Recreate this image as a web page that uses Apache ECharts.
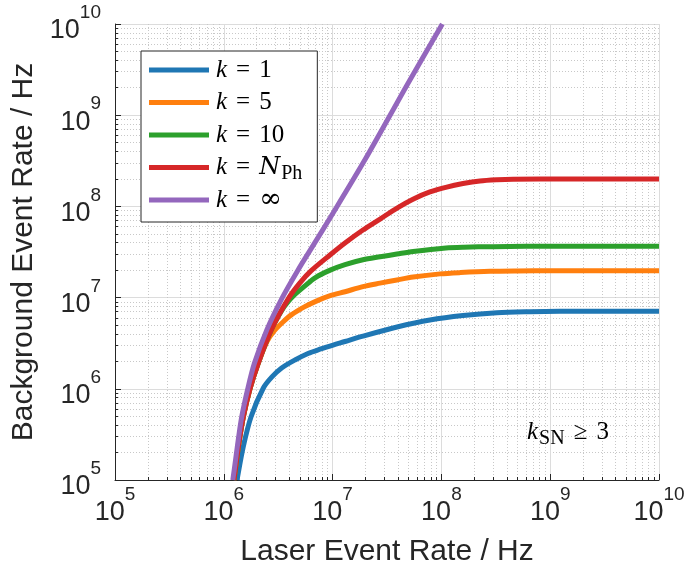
<!DOCTYPE html>
<html><head><meta charset="utf-8">
<script src="https://cdn.jsdelivr.net/npm/echarts@6/dist/echarts.min.js"></script>
<style>html,body{margin:0;padding:0;background:#fff}#c{width:686px;height:568px}</style>
</head><body><div id="c"></div>
<script>
// ---- data ----
const seriesNames = ['k1', 'k5', 'k10', 'kNPh', 'kInf'];
const legendLabels = [
  '{k|k}{eq|=}{t|1}',
  '{k|k}{eq|=}{t|5}',
  '{k|k}{eq|=}{t|10}',
  '{k|k}{eq|=}{N|N}{sub|Ph}',
  '{k|k}{eq|=}{inf|∞}'
];
const colors = ['#1f77b4', '#ff7f0e', '#2ca02c', '#d62728', '#9467bd'];

const blue = [[1.33e6,1e5],[1.34e6,1.09e5],[1.51e6,2.32e5],[1.78e6,4.94e5],[2.31e6,1.02e6],[2.77e6,1.35e6],[3.4e6,1.69e6],[4.51e6,2.07e6],[5.94e6,2.44e6],[7.66e6,2.72e6],[1.01e7,3.02e6],[1.3e7,3.3e6],[1.9e7,3.78e6],[3.91e7,4.76e6],[7.85e7,5.68e6],[1.58e8,6.36e6],[3.25e8,6.83e6],[6.52e8,7.0e6],[1.23e9,7.07e6],[1e10,7.1e6]];
const orange = [[1.24e6,1e5],[1.36e6,2.3e5],[1.51e6,4.9e5],[1.74e6,1e6],[2.07e6,1.9e6],[2.5e6,3.3e6],[2.9e6,4.3e6],[3.5e6,5.4e6],[4.2e6,6.5e6],[5.5e6,7.9e6],[7e6,9.1e6],[9.5e6,1.05e7],[1.3e7,1.16e7],[1.9e7,1.32e7],[2.73e7,1.44e7],[3.9e7,1.56e7],[5.5e7,1.68e7],[9.7e7,1.82e7],[1.5e8,1.88e7],[2.8e8,1.94e7],[5e8,1.96e7],[1e9,1.97e7],[1e10,1.97e7]];
const green = [[1.24e6,1e5],[1.36e6,2.3e5],[1.51e6,4.9e5],[1.74e6,1e6],[2.07e6,1.9e6],[2.72e6,4.4e6],[3.4e6,7.2e6],[3.9e6,9.0e6],[4.5e6,1.08e7],[5.5e6,1.33e7],[6.9e6,1.65e7],[9.5e6,2.0e7],[1.3e7,2.3e7],[1.9e7,2.6e7],[2.73e7,2.8e7],[3.9e7,3.0e7],[5.5e7,3.2e7],[1.1e8,3.5e7],[1.6e8,3.57e7],[3e8,3.62e7],[6e8,3.65e7],[1e10,3.65e7]];
const red = [[1.24e6,1e5],[1.36e6,2.3e5],[1.51e6,4.9e5],[1.74e6,1e6],[2.07e6,1.9e6],[2.72e6,4.4e6],[3.97e6,1e7],[5.01e6,1.45e7],[6.33e6,1.96e7],[9.46e6,2.93e7],[1.3e7,3.97e7],[1.9e7,5.51e7],[2.73e7,7.27e7],[3.91e7,9.6e7],[5.48e7,1.2e8],[7.85e7,1.44e8],[1.12e8,1.63e8],[1.58e8,1.78e8],[2.26e8,1.9e8],[3.25e8,1.96e8],[4.55e8,1.99e8],[8.06e8,2.0e8],[1e10,2e8]];
const purple = [[1.21e6,1e5],[1.27e6,1.52e5],[1.33e6,2.3e5],[1.46e6,4.9e5],[1.66e6,1e6],[1.91e6,1.9e6],[2.48e6,4.4e6],[3.45e6,1e7],[4.8e6,2.0e7],[6.5e6,3.6e7],[9.5e6,7.5e7],[2e7,3.3e8],[5e7,2.3e9],[1.02e8,1e10]];
const allData = [blue, orange, green, red, purple];

const xMin = 1e5, xMax = 1e10, yMin = 1e5, yMax = 1e10;
const xTitle = 'Laser Event Rate / Hz';
const yTitle = 'Background Event Rate / Hz';
const annotation = '{k|k}{sub|SN}{eq|≥}{t|3}';

// ---- chart ----
const txt = '#262626';
const sans = 'Liberation Sans, Arial, Helvetica, sans-serif';
const serif = 'Liberation Serif, DejaVu Serif, serif';
const tickRich = {
  b: {fontSize: 27, fontFamily: sans, color: txt, padding: [14, 0, 0, 0]},
  s: {fontSize: 19, fontFamily: sans, color: txt, verticalAlign: 'top'}
};
const fmtPow = v => '{b|10}{s|' + Math.round(Math.log10(v)) + '}';
const LH = 32;
const mathRich = {
  k: {fontFamily: serif, fontStyle: 'italic', fontSize: 25, color: '#000', lineHeight: LH},
  N: {fontFamily: 'DejaVu Serif, serif', fontStyle: 'italic', fontSize: 24, color: '#000', lineHeight: LH},
  t: {fontFamily: serif, fontSize: 25, color: '#000', lineHeight: LH},
  inf: {fontFamily: 'DejaVu Serif, serif', fontSize: 27, color: '#000', lineHeight: LH},
  eq: {fontFamily: serif, fontSize: 25, color: '#000', lineHeight: LH, padding: [0, 9, 0, 9]},
  sub: {fontFamily: serif, fontSize: 20, color: '#000', lineHeight: 22, verticalAlign: 'bottom', padding: [0, 0, 0, 1]}
};

function axisCommon(isX) {
  return {
    type: 'log', logBase: 10,
    min: isX ? xMin : yMin, max: isX ? xMax : yMax,
    axisLine: {show: true, lineStyle: {color: txt, width: 1}},
    axisTick: {show: true, inside: true, length: 6, lineStyle: {color: txt}},
    minorTick: {show: true, splitNumber: 9, length: 3, lineStyle: {color: txt}},
    splitLine: {show: true, lineStyle: {color: '#dcdcdc', width: 1}},
    minorSplitLine: {show: true, lineStyle: {color: '#c8c8c8', width: 1, type: [1, 2]}},
    axisLabel: {formatter: fmtPow, rich: tickRich, margin: isX ? 5 : 14},
    nameLocation: 'middle',
    nameTextStyle: {fontSize: 30, fontFamily: sans, color: txt}
  };
}

const chart = echarts.init(document.getElementById('c'), null, {renderer: 'canvas'});
chart.setOption({
  animation: false,
  backgroundColor: '#fff',
  grid: {left: 115, right: 27, top: 24, bottom: 88, containLabel: false, outerBoundsMode: 'none'},
  xAxis: Object.assign(axisCommon(true), {name: xTitle, nameGap: 57}),
  yAxis: Object.assign(axisCommon(false), {name: yTitle, nameGap: 62}),
  legend: {
    orient: 'vertical', left: 141, top: 51,
    data: seriesNames,
    icon: 'rect', itemWidth: 60, itemHeight: 5, itemGap: 0.5,
    padding: [3, 15, 6, 8],
    backgroundColor: '#fff', borderColor: txt, borderWidth: 1, borderRadius: 0,
    formatter: n => legendLabels[seriesNames.indexOf(n)],
    textStyle: {rich: mathRich, lineHeight: LH, padding: [0, 0, 0, 2]}
  },
  graphic: [{
    type: 'text', left: 527, top: 420, z: 50,
    style: {text: annotation, rich: mathRich}
  }],
  series: seriesNames.map((n, i) => ({
    name: n, type: 'line', data: allData[i], symbol: 'none',
    smooth: 0.3,
    lineStyle: {color: colors[i], width: 5}, itemStyle: {color: colors[i]},
    z: 2 + i
  }))
});
</script></body></html>
